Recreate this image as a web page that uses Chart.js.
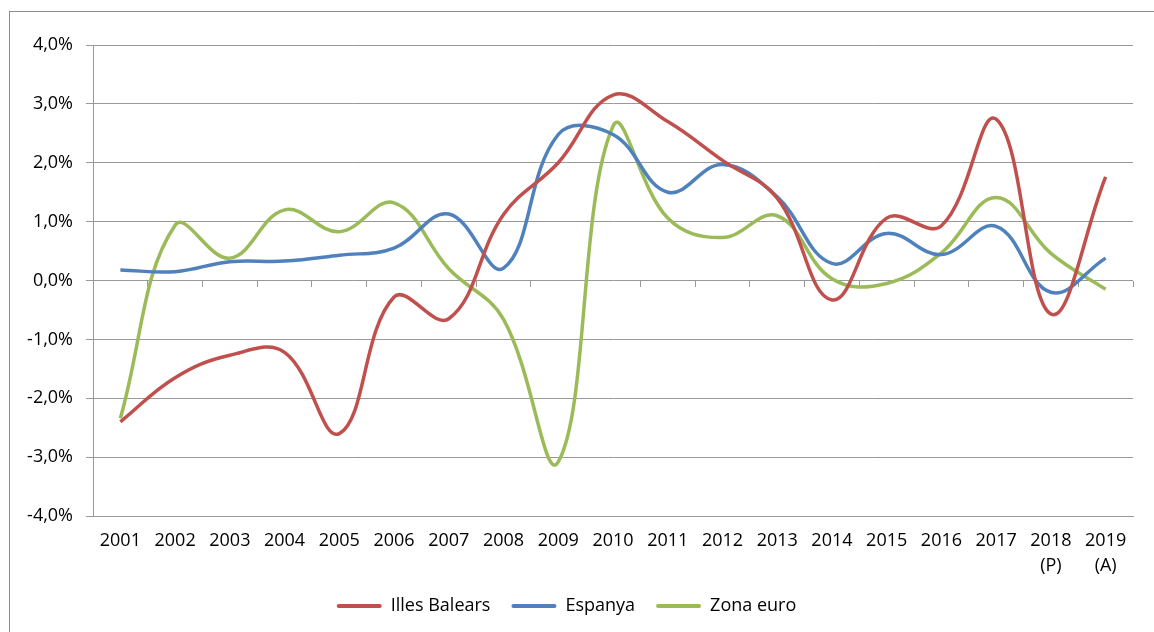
<!DOCTYPE html>
<html>
<head>
  <meta charset="utf-8">
  <title>Illes Balears, Espanya, Zona euro</title>
  <script src="https://cdn.jsdelivr.net/npm/chart.js"></script>
  <style>
    body {
      margin: 0;
      background: #ffffff;
    }
    .frame {
      position: absolute;
      left: 9px;
      top: 11px;
      width: 1200px;
      height: 700px;
      border: 1px solid #8c8c8c;
    }
    #chart {
      position: absolute;
      left: 0;
      top: 0;
    }
  </style>
</head>
<body>
  <div class="frame"></div>
  <canvas id="chart" width="1154" height="632"></canvas>

  <script>
    // categories (years), last two with a note below
    const years = ['2001', '2002', '2003', '2004', '2005', '2006', '2007', '2008', '2009', '2010',
                   '2011', '2012', '2013', '2014', '2015', '2016', '2017', ['2018', '(P)'], ['2019', '(A)']];

    // values in %
    const illesBalears = [-2.4, -1.65, -1.27, -1.22, -2.6, -0.28, -0.65, 1.12, 2.0, 3.15,
                          2.7, 2.04, 1.4, -0.33, 1.06, 0.93, 2.74, -0.57, 1.76];
    const espanya = [0.18, 0.15, 0.32, 0.33, 0.43, 0.55, 1.13, 0.21, 2.48, 2.48,
                     1.5, 1.97, 1.42, 0.29, 0.8, 0.44, 0.92, -0.2, 0.38];
    const zonaEuro = [-2.34, 0.94, 0.38, 1.2, 0.83, 1.32, 0.2, -0.66, -3.08, 2.62,
                      1.06, 0.73, 1.1, 0.03, -0.05, 0.47, 1.41, 0.46, -0.15];

    const gridColor = '#999999';
    const fontFamily = "'Open Sans', sans-serif";

    function serie(label, data, color) {
      return {
        label: label,
        data: data,
        borderColor: color,
        backgroundColor: color,
        borderWidth: 3.5,
        pointRadius: 0,
        pointHoverRadius: 0,
        tension: 0.4,
        fill: false
      };
    }

    const ctx = document.getElementById('chart').getContext('2d');
    new Chart(ctx, {
      type: 'line',
      data: {
        labels: years,
        datasets: [
          serie('Illes Balears', illesBalears, '#C0504D'),
          serie('Espanya', espanya, '#4F81BD'),
          serie('Zona euro', zonaEuro, '#9BBB59')
        ]
      },
      options: {
        responsive: false,
        animation: false,
        events: [],
        layout: {
          padding: { left: 0, top: 45, right: 21, bottom: 7 }
        },
        scales: {
          x: {
            offset: true,
            grid: { display: false },
            border: { display: true, color: gridColor },
            ticks: {
              color: '#000000',
              padding: 4,
              maxRotation: 0,
              autoSkip: false,
              font: { family: fontFamily, size: 18, lineHeight: 1.4 }
            },
            afterFit: (scale) => { scale.height = 60; }
          },
          // tick marks along the 0% line
          x2: {
            type: 'category',
            position: { y: 0 },
            offset: true,
            grid: {
              offset: true,
              drawOnChartArea: false,
              drawTicks: true,
              tickLength: 6,
              color: gridColor
            },
            border: { display: false },
            ticks: { display: false }
          },
          y: {
            min: -4,
            max: 4,
            grid: { color: gridColor, tickLength: 7 },
            border: { display: true, color: gridColor },
            ticks: {
              stepSize: 1,
              padding: 13,
              color: '#000000',
              font: { family: fontFamily, size: 18 },
              callback: (v) => v.toFixed(1).replace('.', ',') + '%'
            },
            afterFit: (scale) => { scale.width = 93; }
          }
        },
        plugins: {
          tooltip: { enabled: false },
          legend: {
            position: 'bottom',
            labels: {
              color: '#000000',
              boxWidth: 45,
              boxHeight: 4,
              padding: 21,
              font: { family: fontFamily, size: 18 },
              generateLabels: (chart) =>
                Chart.defaults.plugins.legend.labels.generateLabels(chart).map((l) => ({
                  ...l, lineWidth: 0, borderRadius: 2
                }))
            }
          }
        }
      }
    });
  </script>
</body>
</html>
